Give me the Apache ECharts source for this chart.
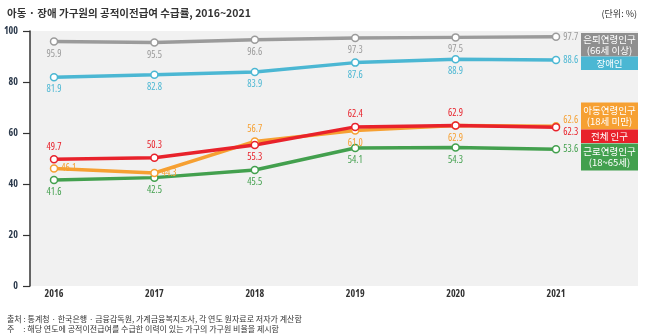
<!DOCTYPE html>
<html>
<head>
<meta charset="utf-8">
<script src="https://cdn.jsdelivr.net/npm/echarts@6/dist/echarts.min.js"></script>
<style>
  html, body { margin: 0; padding: 0; background: #fff; }
  #chart { width: 655px; height: 334px; }
</style>
</head>
<body>
<div id="chart"></div>
<script>
// Years on the horizontal axis
const years = ['2016', '2017', '2018', '2019', '2020', '2021'];

// Public transfer receipt rate by household group (%)
const retired  = [95.9, 95.5, 96.6, 97.3, 97.5, 97.7];
const disabled = [81.9, 82.8, 83.9, 87.6, 88.9, 88.6];
const children = [46.1, 44.3, 56.7, 61.0, 62.9, 62.6];
const total    = [49.7, 50.3, 55.3, 62.4, 62.9, 62.3];
const working  = [41.6, 42.5, 45.5, 54.1, 54.3, 53.6];

// Group names shown in the tags on the right
const names = ['은퇴연령인구\n(66세 이상)', '장애인', '아동연령인구\n(18세 미만)', '전체 인구', '근로연령인구\n(18~65세)'];

// Y axis ticks
const yTicks = [0, 20, 40, 60, 80, 100];

// Where each value label sits relative to its point
const retiredPos  = ['bottom', 'bottom', 'bottom', 'bottom', 'bottom', 'right'];
const disabledPos = ['bottom', 'bottom', 'bottom', 'bottom', 'bottom', 'right'];
const childrenPos = ['right', 'right', 'top', 'bottom', 'bottom', 'right'];
const totalPos    = ['top', 'top', 'bottom', 'top', 'top', 'right'];
const workingPos  = ['bottom', 'bottom', 'bottom', 'bottom', 'bottom', 'right'];

// Narrow numerals: the condensed width of Open Sans
const NUM_FONT = "'Open Sans', sans-serif";
const NUM_STRETCH = 'condensed';
const KR_FONT = "'Noto Sans CJK KR', 'Noto Sans', sans-serif";

const colors = {
  retired: '#9b9b9b', retiredTag: '#8f8f8f',
  disabled: '#4bb7d3',
  children: '#f6a032',
  total: '#e8222b',
  working: '#43a04e'
};

function makeSeries(name, values, positions, color, offsets) {
  return {
    name: name,
    type: 'line',
    xAxisIndex: 1,
    yAxisIndex: 1,
    data: values.map(function (v, i) {
      const lab = { position: positions[i] };
      if (offsets && offsets[i]) lab.offset = offsets[i];
      return { value: v, label: lab };
    }),
    symbol: 'circle',
    symbolSize: 7,
    itemStyle: { color: '#fff', borderColor: color, borderWidth: 1.5 },
    lineStyle: { color: color, width: 3.5 },
    emphasis: { disabled: true },
    label: {
      show: true,
      color: color,
      fontFamily: NUM_FONT,
      fontStyle: NUM_STRETCH,
      fontSize: 10,
      distance: 3,
      formatter: function (p) { return p.value.toFixed(1); }
    },
    z: 3
  };
}

const childrenOffsets = [null, null, null, null, null, [0, -6]];
const totalOffsets = [null, null, null, null, null, [0, 5]];

// Coloured name tag on the right edge
function tag(text, color, y, h) {
  return {
    type: 'group',
    left: 581,
    top: y,
    children: [
      { type: 'rect', shape: { x: 0, y: 0, width: 57, height: h }, style: { fill: color } },
      {
        type: 'text',
        x: 28.5, y: h / 2,
        style: {
          text: text, fill: '#fff', font: '9.5px ' + KR_FONT,
          align: 'center', verticalAlign: 'middle', lineHeight: 11.5
        }
      }
    ]
  };
}

const chart = echarts.init(document.getElementById('chart'), null, { renderer: 'canvas' });

chart.setOption({
  animation: false,
  backgroundColor: '#fff',
  title: [
    {
      text: '아동 · 장애 가구원의 공적이전급여 수급률, 2016~2021',
      left: 2, top: 3,
      textStyle: { fontFamily: KR_FONT, fontSize: 10.5, fontWeight: 'bold', color: '#333' }
    },
    {
      text: '(단위: %)',
      right: 13, top: 4,
      textStyle: { fontFamily: KR_FONT, fontSize: 9, fontWeight: 'normal', color: '#333' }
    },
    {
      text: '출처 : 통계청 · 한국은행 · 금융감독원, 가계금융복지조사, 각 연도 원자료로 저자가 계산함\n주     : 해당 연도에 공적이전급여를 수급한 이력이 있는 가구의 가구원 비율을 제시함',
      left: 2, top: 309,
      textStyle: { fontFamily: KR_FONT, fontSize: 8, fontWeight: 'normal', color: '#333', lineHeight: 10 }
    }
  ],
  grid: [
    { left: 30, right: 17, top: 31, bottom: 48, show: true, backgroundColor: '#f1f1f1', borderWidth: 0 },
    { left: 54, right: 99, top: 31, bottom: 48 }
  ],
  xAxis: [
    { gridIndex: 0, type: 'value', show: false },
    {
      gridIndex: 1, type: 'category', data: years, boundaryGap: false,
      axisLine: { show: false }, axisTick: { show: false }, splitLine: { show: false },
      axisLabel: { margin: 3, color: '#333', fontFamily: NUM_FONT, fontStyle: NUM_STRETCH, fontSize: 10, fontWeight: 'bold' }
    }
  ],
  yAxis: [
    {
      gridIndex: 0, type: 'value', min: yTicks[0], max: yTicks[yTicks.length - 1], interval: 20,
      axisLine: { show: true, lineStyle: { color: '#333', width: 1.5 } },
      axisTick: { show: true, length: 7, lineStyle: { color: '#333', width: 1.2 } },
      splitLine: { show: false },
      axisLabel: { margin: 12, color: '#2c3a4c', fontFamily: NUM_FONT, fontStyle: NUM_STRETCH, fontSize: 10, fontWeight: 'bold' }
    },
    { gridIndex: 1, type: 'value', min: 0, max: 100, show: false }
  ],
  series: [
    makeSeries(names[0], retired, retiredPos, colors.retired),
    makeSeries(names[1], disabled, disabledPos, colors.disabled),
    makeSeries(names[4], working, workingPos, colors.working),
    makeSeries(names[2], children, childrenPos, colors.children, childrenOffsets),
    makeSeries(names[3], total, totalPos, colors.total, totalOffsets)
  ],
  graphic: [
    tag(names[0], colors.retiredTag, 33, 23.5),
    tag(names[1], colors.disabled, 56.5, 13.5),
    tag(names[2], colors.children, 102.5, 27),
    tag(names[3], colors.total, 129.5, 13.5),
    tag(names[4], colors.working, 143.5, 27)
  ]
});
</script>
</body>
</html>
